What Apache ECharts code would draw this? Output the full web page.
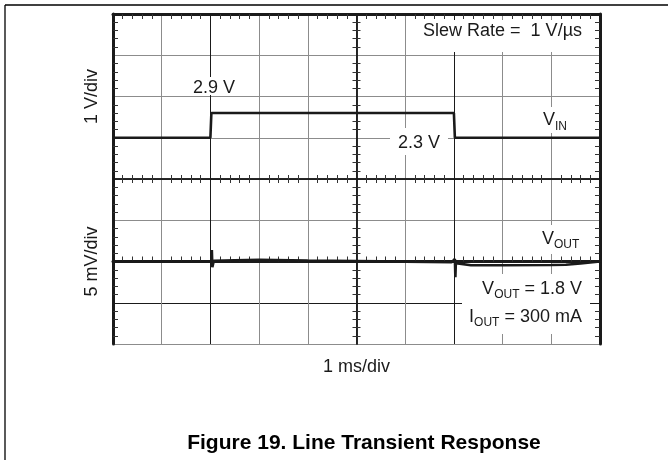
<!DOCTYPE html>
<html>
<head>
<meta charset="utf-8">
<script src="https://cdn.jsdelivr.net/npm/echarts@6/dist/echarts.min.js"></script>
<style>
  html, body { margin: 0; padding: 0; background: #fff; }
  #chart { width: 668px; height: 460px; }
</style>
</head>
<body>
<div id="chart"></div>
<script>
// scope screen, 10 x 8 divisions, time in ms (1 ms/div)
const vinTime = [0, 2.0, 2.02, 7.0, 7.02, 10];
const vinVolts = [2.3, 2.3, 2.9, 2.9, 2.3, 2.3];

// VOUT deviation from 1.8 V, in mV (5 mV/div)
const voutTime = [0, 1.0, 2.02, 2.03, 2.04, 2.07, 2.5, 3.0, 4.0, 5.0, 6.0, 6.95, 7.02, 7.03, 7.04, 7.08, 7.35, 8.0, 9.0, 9.3, 9.6, 10];
const voutMv = [0, 0, 0, 1.4, -0.7, 0.1, 0.15, 0.2, 0.12, 0.05, -0.02, -0.1, 0.3, -1.9, -0.2, -0.15, -0.45, -0.45, -0.42, -0.4, -0.25, 0];

const vinRange = [1.3, 5.3];   // upper half: 1 V/div
const voutRange = [-10, 10];   // lower half: 5 mV/div

const FONT = '"Liberation Sans", Arial, sans-serif';
const INK = '#1a1a1a';
const GRAY = '#8c8c8c';

const L = 113, R = 68, T = 14, H = 165, W = 668 - L - R;
const HALF_W = W / 2;

// the lines at 2 ms and 7 ms (and -5 mV) look darker on the scan
const xSplitColors = [GRAY, GRAY, INK, GRAY, GRAY, GRAY, GRAY, INK, GRAY, GRAY, GRAY];
const voutSplitColors = [GRAY, INK, GRAY, GRAY, GRAY];

const chart = echarts.init(document.getElementById('chart'));

function xAx(grid, pos, opts) {
  return Object.assign({
    type: 'value', gridIndex: grid, position: pos, min: 0, max: 10, interval: 1,
    axisLine: { show: true, lineStyle: { color: INK, width: 3 } },
    axisTick: { show: false, inside: true },
    minorTick: { show: true, splitNumber: 5, length: 5, lineStyle: { color: '#333', width: 1 } },
    axisLabel: { show: false },
    splitLine: { show: false }
  }, opts);
}
function yAx(grid, pos, range, iv, opts) {
  return Object.assign({
    type: 'value', gridIndex: grid, position: pos, min: range[0], max: range[1], interval: iv,
    axisLine: { show: true, onZero: false, lineStyle: { color: INK, width: 3 } },
    axisTick: { show: false, inside: true },
    minorTick: { show: true, splitNumber: 5, length: 5, lineStyle: { color: '#333', width: 1 } },
    axisLabel: { show: false },
    splitLine: { show: false }
  }, opts);
}
const centerLine = { show: true, onZero: false, lineStyle: { color: INK, width: 1.5 } };
const centerMinor = { show: true, splitNumber: 5, length: 4, lineStyle: { color: '#333', width: 1 } };
const nameStyle = { fontFamily: FONT, fontSize: 18, color: INK };

// text with subscripts; cy is the centre of the full-size letters
function sub(x, cy, text, align) {
  return {
    type: 'text', z: 6, x: x, y: cy + 2,
    style: {
      text: text, align: align, verticalAlign: 'middle',
      rich: {
        v: { fontFamily: FONT, fontSize: 18, fill: INK, lineHeight: 18 },
        s: { fontFamily: FONT, fontSize: 12, fill: INK, lineHeight: 12, padding: [12, 0, 0, 0] }
      }
    }
  };
}

const option = {
  animation: false,
  backgroundColor: '#fff',
  grid: [
    { left: L, right: R, top: T, height: H, containLabel: false, outerBoundsMode: 'none' },
    { left: L, right: R, top: T + H, height: H, containLabel: false, outerBoundsMode: 'none' }
  ],
  xAxis: [
    xAx(0, 'top', { splitLine: { show: true, lineStyle: { color: xSplitColors, width: 1 } } }),
    xAx(0, 'bottom', { axisLine: centerLine, minorTick: centerMinor }),
    xAx(1, 'top', { axisLine: centerLine, minorTick: centerMinor }),
    xAx(1, 'bottom', {
      splitLine: { show: true, lineStyle: { color: xSplitColors, width: 1 } },
      name: '1 ms/div', nameLocation: 'middle', nameGap: 14, nameTextStyle: nameStyle
    })
  ],
  yAxis: [
    yAx(0, 'left', vinRange, 1, {
      splitLine: { show: true, lineStyle: { color: GRAY, width: 1 } },
      name: '1 V/div', nameLocation: 'middle', nameGap: 12, nameTextStyle: nameStyle
    }),
    yAx(0, 'right', vinRange, 1),
    yAx(0, 'left', vinRange, 1, { offset: -HALF_W, axisLine: centerLine, minorTick: centerMinor }),
    yAx(0, 'right', vinRange, 1, { offset: -HALF_W, axisLine: centerLine, minorTick: centerMinor }),
    yAx(1, 'left', voutRange, 5, {
      splitLine: { show: true, lineStyle: { color: voutSplitColors, width: 1 } },
      name: '5 mV/div', nameLocation: 'middle', nameGap: 12, nameTextStyle: nameStyle
    }),
    yAx(1, 'right', voutRange, 5),
    yAx(1, 'left', voutRange, 5, { offset: -HALF_W, axisLine: centerLine, minorTick: centerMinor }),
    yAx(1, 'right', voutRange, 5, { offset: -HALF_W, axisLine: centerLine, minorTick: centerMinor })
  ],
  series: [
    {
      name: 'VIN', type: 'line', xAxisIndex: 0, yAxisIndex: 0,
      data: vinTime.map((t, i) => [t, vinVolts[i]]),
      showSymbol: false, symbol: 'none', z: 5,
      lineStyle: { color: INK, width: 2.6 }
    },
    {
      name: 'VOUT', type: 'line', xAxisIndex: 3, yAxisIndex: 4,
      data: voutTime.map((t, i) => [t, voutMv[i]]),
      showSymbol: false, symbol: 'none', z: 5,
      lineStyle: { color: INK, width: 2.6 }
    }
  ],
  graphic: [
    // page frame from the datasheet crop
    { type: 'line', z: 10, shape: { x1: 5, y1: 5, x2: 668, y2: 5 }, style: { stroke: '#000', lineWidth: 1.3 } },
    { type: 'line', z: 10, shape: { x1: 5, y1: 5, x2: 5, y2: 460 }, style: { stroke: '#000', lineWidth: 1.3 } },
    // white boxes behind the annotations
    { type: 'rect', z: 1, shape: { x: 415, y: 20, width: 178, height: 32 }, style: { fill: '#fff' } },
    { type: 'rect', z: 1, shape: { x: 190, y: 77, width: 46, height: 18 }, style: { fill: '#fff' } },
    { type: 'rect', z: 1, shape: { x: 390, y: 128, width: 58, height: 27 }, style: { fill: '#fff' } },
    { type: 'rect', z: 1, shape: { x: 540, y: 107, width: 32, height: 26 }, style: { fill: '#fff' } },
    { type: 'rect', z: 1, shape: { x: 538, y: 225, width: 44, height: 29 }, style: { fill: '#fff' } },
    { type: 'rect', z: 1, shape: { x: 462, y: 274, width: 128, height: 60 }, style: { fill: '#fff' } },
    // annotations
    { type: 'text', z: 6, x: 582, y: 31, style: { text: 'Slew Rate =  1 V/µs', font: '18px ' + FONT, fill: INK, align: 'right', verticalAlign: 'middle' } },
    { type: 'text', z: 6, x: 193, y: 88, style: { text: '2.9 V', font: '18px ' + FONT, fill: INK, align: 'left', verticalAlign: 'middle' } },
    { type: 'text', z: 6, x: 398, y: 143, style: { text: '2.3 V', font: '18px ' + FONT, fill: INK, align: 'left', verticalAlign: 'middle' } },
    sub(543, 118.5, '{v|V}{s|IN}', 'left'),
    sub(542, 237, '{v|V}{s|OUT}', 'left'),
    sub(582, 287, '{v|V}{s|OUT}{v| = 1.8 V}', 'right'),
    sub(582, 315, '{v|I}{s|OUT}{v| = 300 mA}', 'right'),
    // figure caption
    { type: 'text', z: 6, x: 364, y: 443, style: { text: 'Figure 19. Line Transient Response', font: 'bold 21px ' + FONT, fill: '#000', align: 'center', verticalAlign: 'middle' } }
  ]
};

chart.setOption(option);
</script>
</body>
</html>
